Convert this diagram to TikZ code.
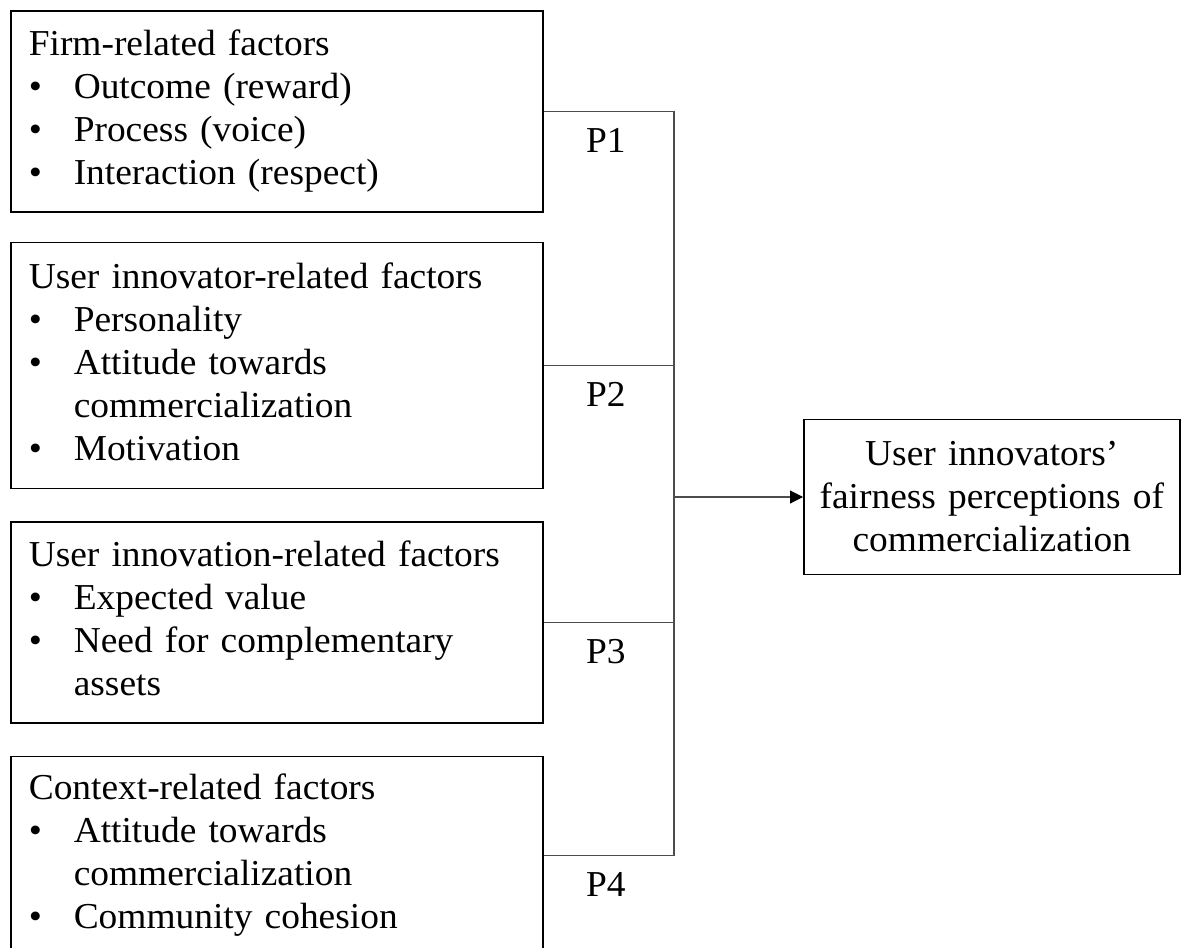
\documentclass[tikz,border=0pt]{standalone}
\usepackage{fontspec}
\setmainfont{Liberation Serif}[FakeStretch=1.025]
\usetikzlibrary{positioning,arrows.meta}

% heading line plus bullet rows of one factor box
\newcommand{\factorlist}[2]{%
  \begin{tabular}{@{}p{45pt}@{}l@{}}
    \multicolumn{2}{@{}l@{}}{#1}\\
    #2
  \end{tabular}}

\begin{document}
\begin{tikzpicture}[
    x=1pt, y=-1pt,
    every node/.style={font=\fontsize{36.5}{43}\selectfont},
    factor/.style={rectangle, draw, line width=1.6pt, minimum width=532pt, text width=496pt, inner xsep=18pt, inner ysep=0pt, align=left},
    outcome/.style={rectangle, draw, line width=1.6pt, minimum width=376pt, minimum height=155pt, text width=360pt, inner xsep=8pt, align=center},
    conn/.style={line width=1.1pt, black!70},
    arr/.style={conn, -{Triangle[length=13pt, width=13pt, black]}},
    lbl/.style={pos=0.25, below=13pt, xshift=-3pt, text=black}
]
\useasboundingbox (0,0) rectangle (1182,947);

\node[factor, minimum height=201pt, anchor=north west] (firm) at (10,10)
    {\factorlist{Firm-related factors}{%
     \textbullet & Outcome (reward)\\
     \textbullet & Process (voice)\\
     \textbullet & Interaction (respect)}};
\node[factor, minimum height=246pt, below=29pt of firm] (innovator)
    {\factorlist{User innovator-related factors}{%
     \textbullet & Personality\\
     \textbullet & Attitude towards\\
                 & commercialization\\
     \textbullet & Motivation}};
\node[factor, minimum height=201pt, below=32pt of innovator] (innovation)
    {\factorlist{User innovation-related factors}{%
     \textbullet & Expected value\\
     \textbullet & Need for complementary\\
                 & assets}};
\node[factor, minimum height=198pt, below=32pt of innovation] (context)
    {\factorlist{Context-related factors}{%
     \textbullet & Attitude towards\\
                 & commercialization\\
     \textbullet & Community cohesion}};

\node[outcome, anchor=west] (fair) at (803,497)
    {User innovators'\\fairness perceptions of\\commercialization};

\coordinate (bus) at (674,497);

\draw[conn] (firm.east)       -| node[lbl]{P1} (bus);
\draw[conn] (innovator.east)  -| node[lbl]{P2} (bus);
\draw[conn] (innovation.east) -| node[lbl]{P3} (bus);
\draw[conn] (context.east)    -| node[lbl]{P4} (bus);
\draw[arr]  (bus) -- (fair.west);
\end{tikzpicture}
\end{document}
